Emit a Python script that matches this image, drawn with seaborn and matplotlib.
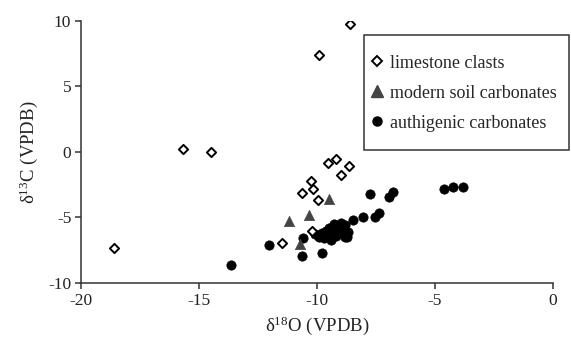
import matplotlib
matplotlib.use("Agg")
import matplotlib.pyplot as plt
import seaborn as sns
import pandas as pd
from matplotlib.lines import Line2D
from matplotlib.patches import Rectangle

sns.set_theme(style="white")
plt.rcParams['font.family'] = ['Liberation Serif', 'DejaVu Serif']
plt.rcParams['mathtext.fontset'] = 'custom'
plt.rcParams['mathtext.rm'] = 'Liberation Serif'
plt.rcParams['mathtext.it'] = 'Liberation Serif:italic'
plt.rcParams['mathtext.default'] = 'regular'

# limestone clasts (open diamonds)
lime_x = [-8.6, -9.9, -15.7, -14.5, -18.6, -9.55, -9.18, -8.63, -9.0, -10.25, -10.65, -10.16, -9.94, -11.47, -10.22]
lime_y = [9.75, 7.4, 0.2, 0.0, -7.3, -0.85, -0.56, -1.09, -1.73, -2.26, -3.1, -2.87, -3.69, -6.97, -6.03]

# modern soil carbonates (triangles)
soil_x = [-9.48, -10.34, -11.17, -10.72]
soil_y = [-3.56, -4.83, -5.27, -7.05]

# authigenic carbonates (filled circles)
auth_x = [-13.66, -12.03, -10.61, -10.65, -9.8, -7.75, -6.77, -6.94, -4.62, -4.22, -3.83,
          -8.04, -7.54, -7.36, -8.46, -8.74,
          -10.1, -9.9, -9.8, -9.7, -9.6, -9.5, -9.5, -9.4, -9.3, -9.3, -9.2, -9.1,
          -9.0, -9.0, -8.9, -8.8, -8.8, -8.7]
auth_y = [-8.6, -7.1, -6.56, -7.94, -7.7, -3.18, -3.05, -3.44, -2.85, -2.67, -2.67,
          -4.96, -4.96, -4.7, -5.21, -6.49,
          -6.3, -6.5, -6.2, -6.6, -6.0, -6.4, -5.8, -6.7, -6.1, -5.5, -6.4, -5.8,
          -6.2, -5.4, -5.9, -6.5, -5.6, -6.1]

series = ["limestone clasts", "modern soil carbonates", "authigenic carbonates"]
xticks = [-20, -15, -10, -5, 0]
yticks = [-10, -5, 0, 5, 10]

lime = pd.DataFrame({"x": lime_x, "y": lime_y})
soil = pd.DataFrame({"x": soil_x, "y": soil_y})
auth = pd.DataFrame({"x": auth_x, "y": auth_y})

W, H = 571, 354
fig = plt.figure(figsize=(W / 100, H / 100), dpi=100)
ax = fig.add_axes([0.1419, 0.2006, 0.8266, 0.7409])

sns.scatterplot(data=auth, x="x", y="y", ax=ax, marker="o", color="black",
                s=45, edgecolor="black", linewidth=0.5, zorder=3)
sns.scatterplot(data=soil, x="x", y="y", ax=ax, marker="^", color="#444444",
                s=55, edgecolor="#444444", linewidth=0.5, zorder=4)
sns.scatterplot(data=lime, x="x", y="y", ax=ax, marker="D", color="white",
                s=22, edgecolor="black", linewidth=1.4, zorder=5)

ax.set_xlim(-20, 0)
ax.set_ylim(-10, 10)
ax.set_xticks(xticks)
ax.set_yticks(yticks)
ax.set_xticklabels([str(t) for t in xticks])
ax.set_yticklabels([str(t) for t in yticks])
for s in ["top", "right"]:
    ax.spines[s].set_visible(False)
for s in ["left", "bottom"]:
    ax.spines[s].set_color("#333333")
    ax.spines[s].set_linewidth(1.1)
ax.tick_params(axis="both", direction="out", length=4, width=1.1, color="#333333",
               labelsize=12.5, labelcolor="#222222", pad=3, left=True, bottom=True)

ax.set_xlabel(r"δ$^{18}$O (VPDB)", fontsize=13.5, color="#222222", labelpad=4)
ax.set_ylabel(r"δ$^{13}$C (VPDB)", fontsize=13.5, color="#222222", labelpad=6)

# legend frame
fig.patches.append(Rectangle((364 / W, 1 - 150 / H), (569 - 364) / W, (150 - 35) / H,
                             transform=fig.transFigure, facecolor="white",
                             edgecolor="#333333", linewidth=1.1, zorder=1))

handles = [
    Line2D([], [], linestyle="none", marker="D", markersize=5, markerfacecolor="white",
           markeredgecolor="black", markeredgewidth=1.4),
    Line2D([], [], linestyle="none", marker="^", markersize=8, markerfacecolor="#444444",
           markeredgecolor="#444444"),
    Line2D([], [], linestyle="none", marker="o", markersize=6.5, markerfacecolor="black",
           markeredgecolor="black"),
]
leg = fig.legend(handles, series, loc="upper left", bbox_to_anchor=(366 / W, 1 - 51 / H),
                 frameon=False, fontsize=13, handlelength=0.8,
                 handletextpad=0.35, labelspacing=0.72, borderpad=0.2, borderaxespad=0)

fig.savefig("out.png", dpi=100)
